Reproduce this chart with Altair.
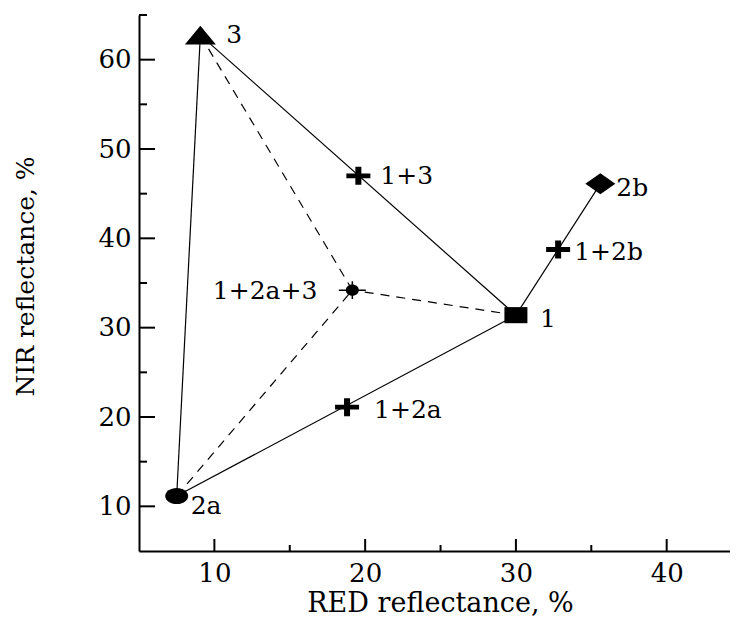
import altair as alt
import pandas as pd

# ---- data ----
names = ["1", "2a", "2b", "3", "1+2a", "1+2b", "1+3", "1+2a+3"]
red = [30.0, 7.5, 35.6, 9.07, 18.8, 32.8, 19.55, 19.15]
nir = [31.4, 11.15, 46.1, 62.75, 21.1, 38.75, 47.0, 34.2]
kinds = ["square", "ellipse", "diamond", "triangle", "plus", "plus", "plus", "dot"]

solid_from = ["3", "2a", "1", "1"]
solid_to = ["2a", "1", "3", "2b"]
dashed_from = ["3", "2a", "1"]
dashed_to = ["1+2a+3", "1+2a+3", "1+2a+3"]

x_ticks_major = [10, 20, 30, 40]
x_ticks_minor = [15, 25, 35]
y_ticks_major = [10, 20, 30, 40, 50, 60]
y_ticks_minor = [15, 25, 35, 45, 55, 65]

# ---- tables ----
pts = pd.DataFrame({"name": names, "red": red, "nir": nir, "kind": kinds})
pos = {n: (r, v) for n, r, v in zip(names, red, nir)}


def seg_table(a, b):
    return pd.DataFrame({
        "red": [pos[s][0] for s in a], "nir": [pos[s][1] for s in a],
        "red2": [pos[t][0] for t in b], "nir2": [pos[t][1] for t in b],
    })


solid = seg_table(solid_from, solid_to)
dashed = seg_table(dashed_from, dashed_to)

FONT = "DejaVu Serif"
W, H = 591, 536
xs = alt.Scale(domain=[5, 44.2], nice=False, zero=False)
ys = alt.Scale(domain=[5, 65], nice=False, zero=False)

x_axis = alt.Axis(values=x_ticks_major, ticks=False, tickSize=0, grid=False,
                  domainColor="black", domainWidth=2,
                  labelFont=FONT, labelFontSize=26, labelColor="black",
                  labelPadding=30, labelBaseline="alphabetic",
                  title="RED reflectance, %", titleFont=FONT, titleFontSize=27,
                  titleFontWeight="normal", titleColor="black",
                  titleX=301, titleY=60, titleAlign="center",
                  titleBaseline="alphabetic")
y_axis = alt.Axis(values=y_ticks_major, ticks=False, tickSize=0, grid=False,
                  domainColor="black", domainWidth=2,
                  labelFont=FONT, labelFontSize=26, labelColor="black",
                  labelPadding=8,
                  title="NIR reflectance, %", titleFont=FONT, titleFontSize=25,
                  titleFontWeight="normal", titleColor="black",
                  titleX=-106, titleY=261, titleAlign="center",
                  titleBaseline="alphabetic", titleAngle=270)


def X(f="red"):
    return alt.X(f + ":Q", scale=xs, axis=x_axis)


def Y(f="nir"):
    return alt.Y(f + ":Q", scale=ys, axis=y_axis)


base = alt.Chart(pts)

solid_layer = alt.Chart(solid).mark_rule(color="black", strokeWidth=1.2).encode(
    x=X(), y=Y(), x2="red2:Q", y2="nir2:Q")
dashed_layer = alt.Chart(dashed).mark_rule(color="black", strokeWidth=1.2,
                                           strokeDash=[9, 7]).encode(
    x=X(), y=Y(), x2="red2:Q", y2="nir2:Q")

shapes = {
    "triangle": ("M-1,0.6L1,0.6L0,-0.6Z", 961),
    "square": ("M-1,-0.7L1,-0.7L1,0.7L-1,0.7Z", 529),
    "ellipse": ("M-1,0A1,0.7,0,1,1,1,0A1,0.7,0,1,1,-1,0Z", 529),
    "diamond": ("M-1,0L0,-0.7L1,0L0,0.7Z", 900),
    "plus": ("M-1,-0.2L-0.25,-0.2L-0.25,-0.75L0.25,-0.75L0.25,-0.2L1,-0.2"
             "L1,0.2L0.25,0.2L0.25,0.75L-0.25,0.75L-0.25,0.2L-1,0.2Z", 576),
    "dot": ("M-1,0A1,0.85,0,1,1,1,0A1,0.85,0,1,1,-1,0Z", 169),
}

point_layers = []
for k, (path, sz) in shapes.items():
    point_layers.append(
        base.transform_filter(alt.datum.kind == k)
        .mark_point(shape=path, size=sz, filled=True, color="black",
                    opacity=1, strokeWidth=0)
        .encode(x=X(), y=Y()))
# thin cross of the mixture point
point_layers.append(
    base.transform_filter(alt.datum.kind == "dot")
    .mark_point(shape="M-1,0L1,0M0,-0.65L0,0.65", size=729, filled=False,
                color="black", opacity=1, strokeWidth=1.5)
    .encode(x=X(), y=Y()))

# label offsets (dx, dy, align)
label_pos = {
    "3": (26, 0, "left"),
    "1+3": (22, 0, "left"),
    "2b": (16, 4, "left"),
    "1+2b": (16, 2, "left"),
    "1": (24, 4, "left"),
    "1+2a": (27, 3, "left"),
    "2a": (14, 10, "left"),
    "1+2a+3": (-35, 1, "right"),
}
text_layers = []
for n, (dx, dy, al) in label_pos.items():
    text_layers.append(
        base.transform_filter(alt.datum.name == n)
        .mark_text(font=FONT, fontSize=25, color="black", align=al,
                   baseline="middle", dx=dx, dy=dy)
        .encode(x=X(), y=Y(), text="name:N"))

# inward axis ticks
xt_major = pd.DataFrame({"red": x_ticks_major})
xt_minor = pd.DataFrame({"red": x_ticks_minor})
yt_major = pd.DataFrame({"nir": y_ticks_major})
yt_minor = pd.DataFrame({"nir": y_ticks_minor})

tick_layers = [
    alt.Chart(xt_major).mark_rule(color="black", strokeWidth=2).encode(
        x=X(), y=alt.value(H), y2=alt.value(H - 12)),
    alt.Chart(xt_minor).mark_rule(color="black", strokeWidth=2).encode(
        x=X(), y=alt.value(H), y2=alt.value(H - 6)),
    alt.Chart(yt_major).mark_rule(color="black", strokeWidth=2).encode(
        y=Y(), x=alt.value(0), x2=alt.value(16)),
    alt.Chart(yt_minor).mark_rule(color="black", strokeWidth=2).encode(
        y=Y(), x=alt.value(0), x2=alt.value(8)),
]

chart = alt.layer(
    solid_layer, dashed_layer, *tick_layers, *point_layers, *text_layers
).properties(
    width=W, height=H,
    padding={"left": 131, "top": 7, "right": 0, "bottom": 66},
    autosize=alt.AutoSizeParams(type="none"),
    background="white",
).configure_view(stroke=None)

chart.save("out.html", embed_options={"renderer": "svg", "actions": False})
